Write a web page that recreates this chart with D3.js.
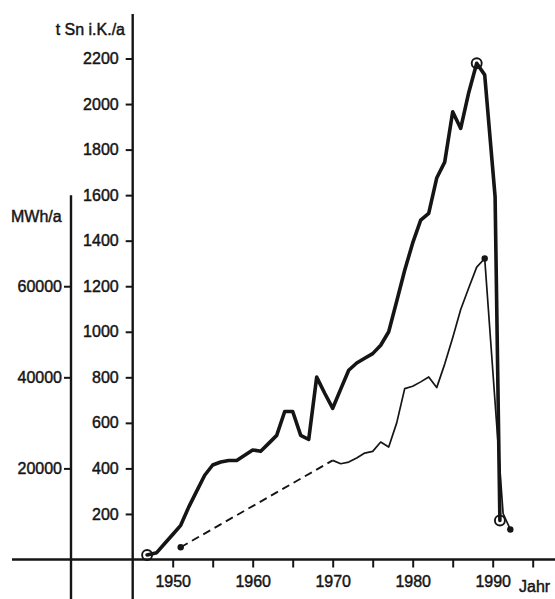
<!DOCTYPE html>
<html>
<head>
<meta charset="utf-8">
<script src="https://cdn.jsdelivr.net/npm/d3@7"></script>
<style>
  html, body { margin: 0; padding: 0; background: #fff; }
  svg text { font-family: "Liberation Sans", Arial, sans-serif; font-size: 16px; fill: #151515;
             stroke: #151515; stroke-width: 0.45px; }
</style>
</head>
<body>
<svg id="chart" width="555" height="599"></svg>
<script>
"use strict";

// ── data ─────────────────────────────────────────────────────────────────────
// thick line: t Sn i.K./a (right axis)
const tinYears = [1946.8, 1948, 1949, 1950, 1951, 1952, 1953, 1954, 1955, 1956,
  1957, 1958, 1959, 1960, 1961, 1962, 1963, 1964, 1965, 1966, 1967, 1968, 1969,
  1970, 1971, 1972, 1973, 1974, 1975, 1976, 1977, 1978, 1979, 1980, 1981, 1982,
  1983, 1984, 1985, 1986, 1987, 1988, 1989, 1990.3, 1990.9];
const tinValues = [20, 30, 70, 110, 150, 230, 300, 370, 415, 428,
  435, 435, 458, 481, 475, 510, 545, 650, 650, 545, 527, 801, 730,
  664, 748, 831, 863, 884, 904, 941, 1000, 1134, 1270, 1390, 1490, 1520,
  1675, 1745, 1966, 1893, 2050, 2179, 2128, 1593, 171];

// thin line: MWh/a (left axis); dashed gap 1951-1970
const energyGapYears = [1951, 1970];
const energyGapValues = [2700, 21760];
const energyYears = [1970, 1971, 1972, 1973, 1974, 1975, 1976, 1977, 1978, 1979,
  1980, 1981, 1982, 1983, 1984, 1985, 1986, 1987, 1988, 1989, 1991.3, 1992.2];
const energyValues = [21760, 21030, 21390, 22300, 23370, 23740, 25790, 24690, 30000, 37520,
  38030, 39000, 40070, 37740, 42900, 48700, 54900, 59600, 64200, 66090, 10100, 6600];

// marked points
const tinCircleYears = [1946.8, 1988, 1990.9];
const energyDotYears = [1951, 1989, 1992.2];

// ticks
const tinTicks = [200, 400, 600, 800, 1000, 1200, 1400, 1600, 1800, 2000, 2200];
const energyTicks = [20000, 40000, 60000];
const yearTicks = [1950, 1955, 1960, 1965, 1970, 1975, 1980, 1985, 1990, 1995];
const yearLabels = [1950, 1960, 1970, 1980, 1990];

// ── layout ───────────────────────────────────────────────────────────────────
const W = 555, H = 599;
const svg = d3.select("#chart");

const x = d3.scaleLinear().domain([1945, 1995]).range([132.7, 532.7]);
const yT = d3.scaleLinear().domain([0, 2200]).range([559.5, 58.5]);
const yE = d3.scaleLinear().domain([0, 110000]).range([559.5, 58.5]);

const leftAxisX = 71;
const rightAxisX = x(1945);
const base = yT(0);

const ink = "#151515";

// axis lines
svg.append("line")
  .attr("x1", 12).attr("x2", W).attr("y1", base).attr("y2", base)
  .attr("stroke", ink).attr("stroke-width", 2.4);
svg.append("line")
  .attr("x1", rightAxisX).attr("x2", rightAxisX).attr("y1", 14).attr("y2", H)
  .attr("stroke", ink).attr("stroke-width", 2.4);
svg.append("line")
  .attr("x1", leftAxisX).attr("x2", leftAxisX).attr("y1", yE(80000)).attr("y2", H)
  .attr("stroke", ink).attr("stroke-width", 2.4);

function styleAxis(ax) {
  ax.select(".domain").remove();
  ax.selectAll(".tick line").attr("stroke", ink).attr("stroke-width", 2);
  ax.selectAll("text").attr("fill", ink).attr("font-size", 16)
    .attr("font-family", "Liberation Sans, Arial, sans-serif");
}

// right (t Sn) axis
svg.append("g").attr("transform", `translate(${rightAxisX},0)`)
  .call(d3.axisLeft(yT).tickValues(tinTicks).tickSize(7).tickPadding(7).tickFormat(d3.format("d")))
  .call(styleAxis);

// left (MWh) axis
svg.append("g").attr("transform", `translate(${leftAxisX},0)`)
  .call(d3.axisLeft(yE).tickValues(energyTicks).tickSize(7).tickPadding(2).tickFormat(d3.format("d")))
  .call(styleAxis);

// x axis
svg.append("g").attr("transform", `translate(0,${base})`)
  .call(d3.axisBottom(x).tickValues(yearTicks).tickSize(8).tickPadding(8)
    .tickFormat(d => yearLabels.includes(d) ? d : ""))
  .call(styleAxis);

// axis titles
svg.append("text").attr("x", 125).attr("y", 35).attr("text-anchor", "end").text("t Sn i.K./a");
svg.append("text").attr("x", 11).attr("y", 222).text("MWh/a");
svg.append("text").attr("x", 519).attr("y", 592).text("Jahr");

// ── series ───────────────────────────────────────────────────────────────────
const tin = tinYears.map((yr, i) => ({ yr, v: tinValues[i] }));
const energy = energyYears.map((yr, i) => ({ yr, v: energyValues[i] }));
const gap = energyGapYears.map((yr, i) => ({ yr, v: energyGapValues[i] }));

const tinLine = d3.line().x(d => x(d.yr)).y(d => yT(d.v));
const energyLine = d3.line().x(d => x(d.yr)).y(d => yE(d.v));

svg.append("path").datum(gap)
  .attr("fill", "none").attr("stroke", ink).attr("stroke-width", 1.9)
  .attr("stroke-dasharray", "8,5").attr("d", energyLine);

svg.append("path").datum(energy)
  .attr("fill", "none").attr("stroke", ink).attr("stroke-width", 1.7)
  .attr("stroke-linejoin", "round").attr("d", energyLine);

svg.append("path").datum(tin)
  .attr("fill", "none").attr("stroke", ink).attr("stroke-width", 3.6)
  .attr("stroke-linejoin", "round").attr("stroke-linecap", "round").attr("d", tinLine);

// open circles on the tin line
const allE = gap.concat(energy);
svg.selectAll("circle.tin")
  .data(tin.filter(d => tinCircleYears.includes(d.yr)))
  .enter().append("circle").attr("class", "tin")
  .attr("cx", d => x(d.yr)).attr("cy", d => yT(d.v)).attr("r", 5)
  .attr("fill", "none").attr("stroke", ink).attr("stroke-width", 1.9);

// filled dots on the energy line
svg.selectAll("circle.energy")
  .data(energyDotYears.map(yr => allE.find(d => d.yr === yr)))
  .enter().append("circle").attr("class", "energy")
  .attr("cx", d => x(d.yr)).attr("cy", d => yE(d.v)).attr("r", 3.2)
  .attr("fill", ink);
</script>
</body>
</html>
